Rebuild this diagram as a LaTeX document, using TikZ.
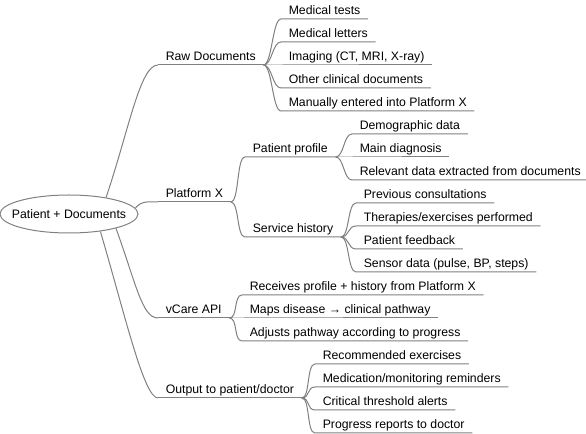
\documentclass[tikz,border=0pt]{standalone}
\usepackage{fontspec}
\setmainfont{Liberation Sans}
\usetikzlibrary{shapes.geometric}
\definecolor{linegray}{RGB}{128,128,128}

\begin{document}
\begin{tikzpicture}[x=0.75pt, y=-0.75pt]
        \def\px{0.75pt}
        \tikzset{
            topic/.style = {draw=linegray, line width=\px, ellipse, inner sep=0pt,
                minimum width=138*\px, minimum height=38*\px, font=\fontsize{9.2pt}{11pt}\selectfont},
            idea/.style = {anchor=south west, inner xsep=7.5*\px, inner ysep=4*\px,
                text depth=0pt, font=\fontsize{9.2pt}{11pt}\selectfont},
            link/.style = {draw=linegray, line width=\px}
        }
        \useasboundingbox (0,0) rectangle (586,434);
        % Central topic
        \node[topic] (root) at (69,214) {\makebox[0pt]{Patient + Documents}};
        % Main branches
        \node[idea] (raw) at (158,65) {Raw Documents};
        \node[idea] (platform) at (158,202) {Platform X};
        \node[idea] (api) at (158,318) {vCare API};
        \node[idea] (output) at (158,398) {Output to patient/doctor};
        \foreach \n in {raw, platform, api, output} {
            \draw[link] (\n.south west) -- (\n.south east);
        }
        % Connect the central topic to the main branches
        \draw[link] (root.24) .. controls +(23,-68) and +(-18,0) .. (raw.south west);
        \draw[link] (root.5) .. controls +(6,-8) and +(-8,0) .. (platform.south west);
        \draw[link] (root.-17) .. controls +(20,55) and +(-16,0) .. (api.south west);
        \draw[link] (root.-29) .. controls +(25,85) and +(-14,0) .. (output.south west);
        % Sub-branches of Platform X
        \node[idea] (profile) at (245,157) {Patient profile};
        \node[idea] (history) at (245,237) {Service history};
        \foreach \n in {profile, history} {
            \draw[link] (platform.south east) .. controls +(8.5,0) and +(-8.5,0) .. (\n.south west) -- (\n.south east);
        }
        % Leaves of Raw Documents
        \foreach \t [count=\i] in {Medical tests, Medical letters, {Imaging (CT, MRI, X-ray)},
                Other clinical documents, Manually entered into Platform X} {
            \node[idea] (raw\i) at (281, -4+\i*23) {\t};
            \draw[link] (raw.south east) .. controls +(8.5,0) and +(-8.5,0) .. (raw\i.south west) -- (raw\i.south east);
        }
        % Leaves of Patient profile
        \foreach \t [count=\i] in {Demographic data, Main diagnosis, Relevant data extracted from documents} {
            \node[idea] (profile\i) at (352, 111+\i*23) {\t};
            \draw[link] (profile.south east) .. controls +(8.5,0) and +(-8.5,0) .. (profile\i.south west) -- (profile\i.south east);
        }
        % Leaves of Service history
        \foreach \t [count=\i] in {Previous consultations, Therapies/exercises performed, Patient feedback,
                {Sensor data (pulse, BP, steps)}} {
            \node[idea] (history\i) at (356, 180+\i*23) {\t};
            \draw[link] (history.south east) .. controls +(8.5,0) and +(-8.5,0) .. (history\i.south west) -- (history\i.south east);
        }
        % Leaves of vCare API
        \foreach \t [count=\i] in {Receives profile + history from Platform X, Maps disease → clinical pathway,
                Adjusts pathway according to progress} {
            \node[idea] (api\i) at (242, 272+\i*23) {\t};
            \draw[link] (api.south east) .. controls +(8.5,0) and +(-8.5,0) .. (api\i.south west) -- (api\i.south east);
        }
        % Leaves of the output branch
        \foreach \t [count=\i] in {Recommended exercises, Medication/monitoring reminders, Critical threshold alerts,
                Progress reports to doctor} {
            \node[idea] (output\i) at (315, 341+\i*23) {\t};
            \draw[link] (output.south east) .. controls +(8.5,0) and +(-8.5,0) .. (output\i.south west) -- (output\i.south east);
        }
\end{tikzpicture}
\end{document}
